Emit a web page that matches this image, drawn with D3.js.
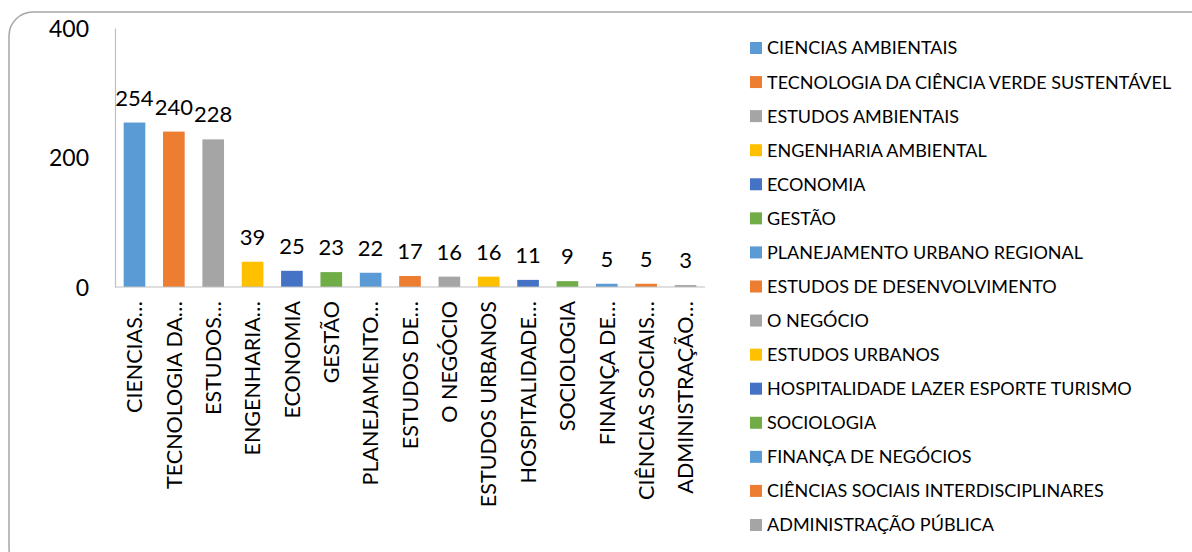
<!DOCTYPE html>
<html>
<head>
<meta charset="utf-8">
<script src="https://cdn.jsdelivr.net/npm/d3@7/dist/d3.min.js"></script>
<style>
  html, body { margin: 0; padding: 0; background: #fff; }
  svg { display: block; }
  text { font-family: Lato, "Open Sans", sans-serif; fill: #000; }
</style>
</head>
<body>
<svg id="chart" width="1192" height="552"></svg>
<script>
// Number of entries per subject area
const categories = [
  "CIENCIAS AMBIENTAIS",
  "TECNOLOGIA DA CIÊNCIA VERDE SUSTENTÁVEL",
  "ESTUDOS AMBIENTAIS",
  "ENGENHARIA AMBIENTAL",
  "ECONOMIA",
  "GESTÃO",
  "PLANEJAMENTO URBANO REGIONAL",
  "ESTUDOS DE DESENVOLVIMENTO",
  "O NEGÓCIO",
  "ESTUDOS URBANOS",
  "HOSPITALIDADE LAZER ESPORTE TURISMO",
  "SOCIOLOGIA",
  "FINANÇA DE NEGÓCIOS",
  "CIÊNCIAS SOCIAIS INTERDISCIPLINARES",
  "ADMINISTRAÇÃO PÚBLICA"
];
const axisLabels = [
  "CIENCIAS…",
  "TECNOLOGIA DA…",
  "ESTUDOS…",
  "ENGENHARIA…",
  "ECONOMIA",
  "GESTÃO",
  "PLANEJAMENTO…",
  "ESTUDOS DE…",
  "O NEGÓCIO",
  "ESTUDOS URBANOS",
  "HOSPITALIDADE…",
  "SOCIOLOGIA",
  "FINANÇA DE…",
  "CIÊNCIAS SOCIAIS…",
  "ADMINISTRAÇÃO…"
];
const values = [254, 240, 228, 39, 25, 23, 22, 17, 16, 16, 11, 9, 5, 5, 3];
const yTicks = [0, 200, 400];
const palette = ["#5B9BD5", "#ED7D31", "#A5A5A5", "#FFC000", "#4472C4", "#70AD47"];

const svg = d3.select("#chart");

// Rounded chart frame
svg.append("rect")
  .attr("x", 9).attr("y", 12)
  .attr("width", 1210).attr("height", 560)
  .attr("rx", 24).attr("ry", 24)
  .attr("fill", "none")
  .attr("stroke", "#a6a6a6")
  .attr("stroke-width", 1.5);

const plot = { left: 115, right: 705, top: 28, bottom: 287 };

const x = d3.scaleBand()
  .domain(categories)
  .range([plot.left, plot.right])
  .paddingInner(0.45)
  .paddingOuter(0.22);

const y = d3.scaleLinear()
  .domain([0, 400])
  .range([plot.bottom, plot.top]);

const color = d3.scaleOrdinal()
  .domain(categories)
  .range(categories.map((_, i) => palette[i % palette.length]));

// Y axis: labels only plus a thin grey spine
const yAxis = svg.append("g")
  .attr("transform", `translate(${plot.left},0)`)
  .call(d3.axisLeft(y).tickValues(yTicks).tickSize(0).tickPadding(26));
yAxis.select(".domain").attr("stroke", "#bfbfbf").attr("stroke-width", 1.2);
yAxis.selectAll("text")
  .attr("font-size", 23)
  .attr("font-family", "Lato, sans-serif")
  .attr("fill", "#000")
  .attr("dy", "0.36em");

// Bars
svg.append("g").selectAll("rect")
  .data(categories)
  .join("rect")
  .attr("x", d => x(d))
  .attr("width", x.bandwidth())
  .attr("y", (d, i) => y(values[i]))
  .attr("height", (d, i) => y(0) - y(values[i]))
  .attr("fill", d => color(d));

// X axis baseline
svg.append("line")
  .attr("x1", plot.left).attr("x2", plot.right)
  .attr("y1", y(0)).attr("y2", y(0))
  .attr("stroke", "#bfbfbf").attr("stroke-width", 1.2);

// Value labels above bars
svg.append("g").selectAll("text")
  .data(categories)
  .join("text")
  .attr("x", d => x(d) + x.bandwidth() / 2)
  .attr("y", (d, i) => y(values[i]) - 17)
  .attr("text-anchor", "middle")
  .attr("font-size", 22)
  .text((d, i) => values[i]);

// Rotated category labels
svg.append("g").selectAll("text")
  .data(categories)
  .join("text")
  .attr("transform", d => `translate(${x(d) + x.bandwidth() / 2},${y(0) + 14}) rotate(-90)`)
  .attr("text-anchor", "end")
  .attr("dy", "0.36em")
  .attr("font-size", 21.5)
  .text((d, i) => axisLabels[i]);

// Legend
const legend = svg.append("g").attr("transform", "translate(750,48)");
const rows = legend.selectAll("g")
  .data(categories)
  .join("g")
  .attr("transform", (d, i) => `translate(0,${i * 34.07})`);
rows.append("rect")
  .attr("x", 0).attr("y", -6)
  .attr("width", 12).attr("height", 12)
  .attr("fill", d => color(d));
rows.append("text")
  .attr("x", 17)
  .attr("dy", "0.36em")
  .attr("font-size", 18)
  .attr("fill", "#1a1a1a")
  .text(d => d);
</script>
</body>
</html>
